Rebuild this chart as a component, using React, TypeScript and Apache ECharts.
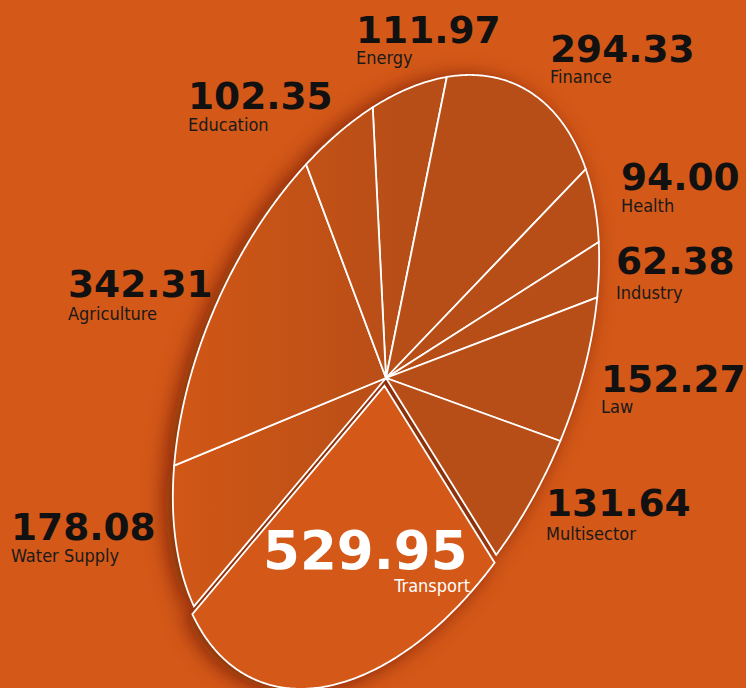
import React, { useEffect, useRef } from "react";
import * as echarts from "echarts";

// ---- data ----
const categories = [
  "Energy",
  "Finance",
  "Health",
  "Industry",
  "Law",
  "Multisector",
  "Transport",
  "Water Supply",
  "Agriculture",
  "Education",
];
const values = [111.97, 294.33, 94.0, 62.38, 152.27, 131.64, 529.95, 178.08, 342.31, 102.35];
const explodedCategories = ["Transport"];
const highlightedCategories = ["Transport"];

// ---- layout ----
const W = 746;
const H = 688;
const CX = 386;
const CY = 378;
const RA = 321; // semi-major
const RB = 185; // semi-minor
const TILT = (23.8 * Math.PI) / 180;
const START = (-41 * Math.PI) / 180;
const EXPLODE = 8;
const BG = "#d45817";

// label anchors (number left x, number baseline, name baseline), same order as categories
const labelLayout = [
  { x: 356, numBase: 45, nameBase: 65 },
  { x: 550, numBase: 64, nameBase: 84 },
  { x: 621, numBase: 192, nameBase: 213 },
  { x: 616, numBase: 276, nameBase: 300 },
  { x: 601, numBase: 394, nameBase: 414 },
  { x: 546, numBase: 518, nameBase: 541 },
  { x: 263, numBase: 572, nameBase: 593 },
  { x: 11, numBase: 542, nameBase: 563 },
  { x: 68, numBase: 299, nameBase: 321 },
  { x: 188, numBase: 111, nameBase: 132 },
];

const NUM_FONT = '"DejaVu Sans", sans-serif';
const NAME_FONT = '"DejaVu Sans Condensed", "Liberation Sans Narrow", "DejaVu Sans", sans-serif';

const total = values.reduce((a, b) => a + b, 0);
const cumulative: number[] = [];
{
  let acc = 0;
  values.forEach((v) => {
    cumulative.push(acc);
    acc += v;
  });
}

function ellipsePoint(theta: number): [number, number] {
  const ux = Math.sin(TILT);
  const uy = -Math.cos(TILT);
  const vx = Math.cos(TILT);
  const vy = Math.sin(TILT);
  const c = Math.cos(theta) * RA;
  const s = Math.sin(theta) * RB;
  return [c * ux + s * vx, c * uy + s * vy];
}

function slicePoints(idx: number, value: number): number[][] {
  const t0 = START + (cumulative[idx] / total) * Math.PI * 2;
  const t1 = t0 + (value / total) * Math.PI * 2;
  let ox = 0;
  let oy = 0;
  if (explodedCategories.includes(categories[idx])) {
    const m = ellipsePoint((t0 + t1) / 2);
    const len = Math.hypot(m[0], m[1]);
    ox = (m[0] / len) * EXPLODE;
    oy = (m[1] / len) * EXPLODE;
  }
  const pts: number[][] = [[CX + ox, CY + oy]];
  const n = Math.max(6, Math.ceil((t1 - t0) / (Math.PI / 360)));
  for (let i = 0; i <= n; i++) {
    const p = ellipsePoint(t0 + ((t1 - t0) * i) / n);
    pts.push([CX + ox + p[0], CY + oy + p[1]]);
  }
  return pts;
}

export default function App() {
  const ref = useRef<HTMLDivElement>(null);

  useEffect(() => {
    document.body.style.margin = "0";
    document.body.style.background = BG;
    if (!ref.current) return;
    const chart = echarts.init(ref.current, undefined, { renderer: "svg", width: W, height: H });

    const gradient = new echarts.graphic.LinearGradient(
      172,
      0,
      395,
      0,
      [
        { offset: 0, color: "#d15716" },
        { offset: 1, color: "#b84e17" },
      ],
      true
    );

    const seriesData = values.map((v, i) => ({ name: categories[i], value: v }));

    const graphics: any[] = [];
    values.forEach((v, i) => {
      const lay = labelLayout[i];
      const hi = highlightedCategories.includes(categories[i]);
      const numSize = hi ? 53 : 37.5;
      const nameSize = 18;
      const numText = v.toFixed(2);
      graphics.push({
        type: "text",
        z: 100,
        silent: true,
        style: {
          text: numText,
          x: lay.x,
          y: lay.numBase - 0.4 * numSize,
          font: `bold ${numSize}px ${NUM_FONT}`,
          fill: hi ? "#ffffff" : "#111111",
          align: "left",
          verticalAlign: "middle",
        },
      });
      graphics.push({
        type: "text",
        z: 100,
        silent: true,
        style: {
          text: categories[i],
          x: hi ? lay.x + 207 : lay.x,
          y: lay.nameBase - 0.4 * nameSize,
          font: `${nameSize}px ${NAME_FONT}`,
          fill: hi ? "#ffffff" : "#1a1a1a",
          align: hi ? "right" : "left",
          verticalAlign: "middle",
        },
      });
    });

    chart.setOption({
      animation: false,
      backgroundColor: BG,
      series: [
        {
          type: "custom",
          name: "shadow",
          coordinateSystem: "none",
          silent: true,
          z: 1,
          data: seriesData,
          renderItem: (params: any, api: any) => {
            const idx = params.dataIndex;
            return {
              type: "polygon",
              shape: { points: slicePoints(idx, api.value(0)) },
              style: {
                fill: BG,
                stroke: "none",
                shadowBlur: 22,
                shadowColor: "rgba(80,25,0,0.7)",
                shadowOffsetX: -7,
                shadowOffsetY: 3,
              },
            };
          },
        },
        {
          type: "custom",
          name: "slices",
          coordinateSystem: "none",
          z: 2,
          data: seriesData,
          renderItem: (params: any, api: any) => {
            const idx = params.dataIndex;
            const hi = explodedCategories.includes(categories[idx]);
            return {
              type: "polygon",
              shape: { points: slicePoints(idx, api.value(0)) },
              style: {
                fill: hi ? BG : gradient,
                stroke: "#ffffff",
                lineWidth: 1.8,
                lineJoin: "miter",
              },
            };
          },
        },
      ],
      graphic: graphics,
    });

    return () => {
      chart.dispose();
    };
  }, []);

  return (
    <div
      ref={ref}
      style={{ position: "fixed", left: 0, top: 0, width: W, height: H, background: BG }}
    />
  );
}
